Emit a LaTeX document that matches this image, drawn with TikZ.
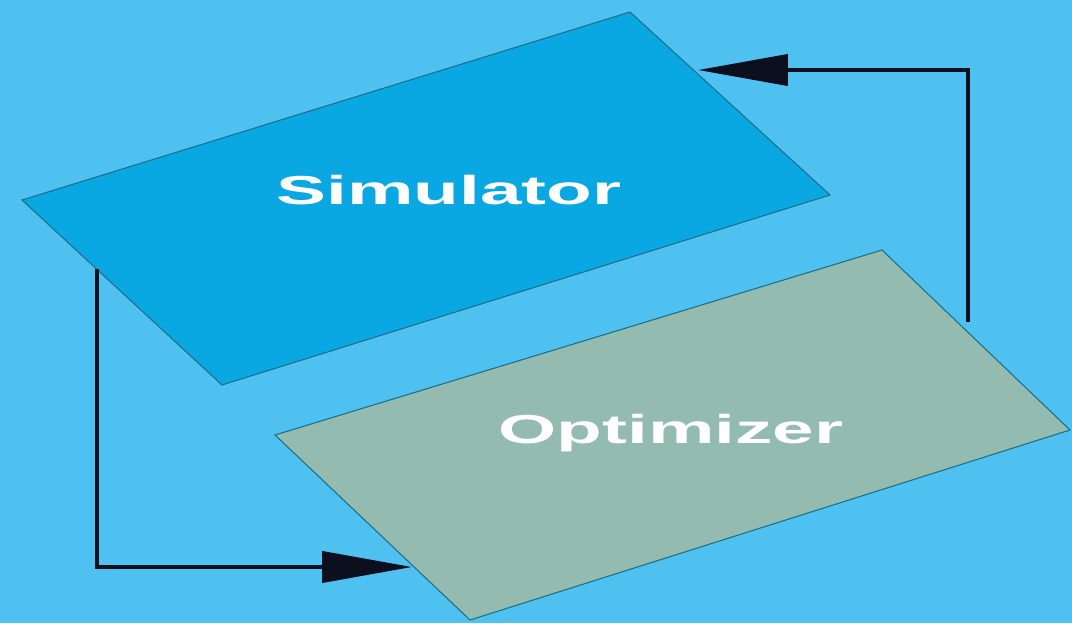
\documentclass[tikz,border=0pt]{standalone}
\usepackage{fontspec}
\setmainfont{Liberation Sans}
\usepackage{xcolor}
\usetikzlibrary{arrows.meta,positioning,calc}

\definecolor{skybg}{HTML}{4FC1F0}
\definecolor{simfill}{HTML}{0AA8E2}
\definecolor{optfill}{HTML}{93BBB0}
\definecolor{edgeline}{HTML}{1B6F86}
\definecolor{arrowink}{HTML}{0B0F1E}

\begin{document}
\begin{tikzpicture}[
            x=0.02cm, y=-0.02cm,
            panel/.style={draw=edgeline, line width=0.6pt},
            label/.style={text=white, font=\fontsize{23}{27}\selectfont\bfseries, xscale=1.85},
            arrow/.style={-{Triangle[length=1.8cm, width=0.62cm]}, line width=2.3pt, draw=arrowink}
        ]
            \fill[skybg] (0,0) rectangle (1072,623);
            \useasboundingbox (0,0) rectangle (1072,623);

            % the two panels
            \filldraw[panel, fill=simfill] (22,200) -- (630,12) -- (830,195) -- (222,385) -- cycle;
            \filldraw[panel, fill=optfill] (275,435) -- (882,250) -- (1070,430) -- (470,620) -- cycle;

            \node[label] (sim) at (449,190) {Simulator};
            \node[label] (opt) at (671,433) {Optimizer};

            % ends of the loop
            \coordinate (simout) at (97,269);
            \coordinate (optin) at (412,567);
            \coordinate (optout) at (968,322);
            \coordinate (simin) at (698,70);

            \draw[arrow] (simout) |- (optin);
            \draw[arrow] (optout) |- (simin);
        \end{tikzpicture}
\end{document}
